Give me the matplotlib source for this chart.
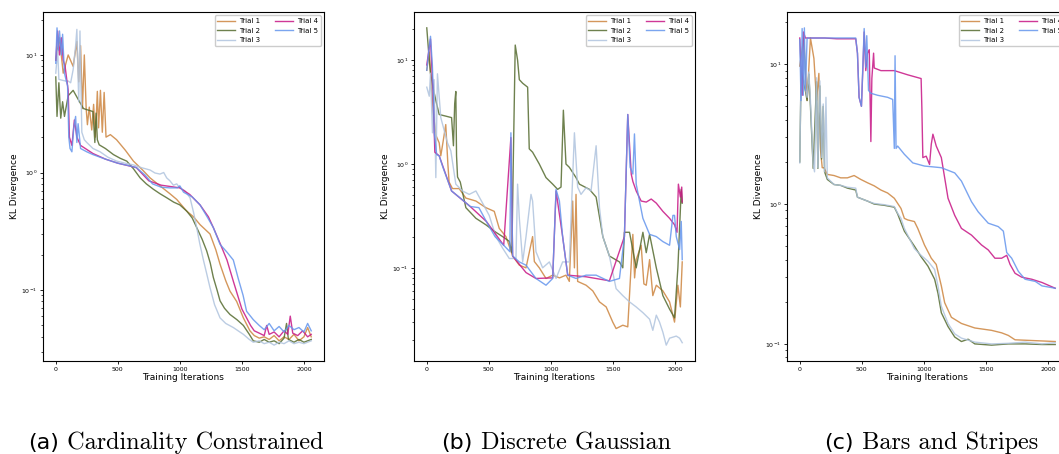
import matplotlib
matplotlib.use("Agg")
import matplotlib.pyplot as plt

# KL divergence per training iteration, (iteration, value) pairs for each trial

# (a) Cardinality Constrained
card_t1 = [(0, 9), (30, 14), (60, 7), (100, 10), (140, 8), (170, 13), (185, 5.9), (200, 12),
           (215, 3.5), (230, 10), (245, 3.5), (255, 2.55), (270, 3.6), (290, 2.3), (305, 3.8),
           (320, 2.0), (335, 4.9), (345, 2.4), (360, 5.0), (375, 2.2), (390, 4.8), (405, 2.0),
           (440, 2.1), (490, 1.9), (560, 1.55), (626, 1.25), (700, 1.05), (760, 0.9), (840, 0.77),
           (920, 0.66), (975, 0.59), (1055, 0.47), (1110, 0.42), (1163, 0.36), (1243, 0.30),
           (1290, 0.22), (1324, 0.166), (1370, 0.12), (1404, 0.098), (1458, 0.08), (1512, 0.058),
           (1565, 0.045), (1600, 0.041), (1640, 0.039), (1680, 0.04), (1720, 0.038), (1760, 0.041),
           (1800, 0.037), (1840, 0.04), (1880, 0.038), (1920, 0.042), (1960, 0.037), (2000, 0.04),
           (2030, 0.048), (2059, 0.04)]
card_t2 = [(0, 6.5), (10, 3.0), (25, 5.8), (40, 2.9), (55, 4.0), (70, 3.0), (100, 4.5), (140, 5.0),
           (180, 4.2), (223, 3.5), (260, 3.4), (300, 3.3), (315, 1.8), (325, 3.2), (335, 1.9),
           (350, 1.72), (400, 1.6), (465, 1.42), (520, 1.32), (572, 1.25), (625, 1.08), (680, 0.9),
           (730, 0.8), (787, 0.72), (840, 0.66), (894, 0.61), (950, 0.56), (1000, 0.53), (1055, 0.47),
           (1100, 0.41), (1136, 0.34), (1180, 0.27), (1216, 0.216), (1245, 0.17), (1270, 0.128),
           (1300, 0.1), (1324, 0.081), (1360, 0.07), (1404, 0.062), (1460, 0.056), (1512, 0.05),
           (1560, 0.042), (1592, 0.037), (1640, 0.036), (1680, 0.038), (1720, 0.036), (1760, 0.037),
           (1800, 0.035), (1840, 0.039), (1860, 0.052), (1875, 0.038), (1920, 0.036), (1960, 0.038),
           (2000, 0.036), (2030, 0.037), (2059, 0.038)]
card_t3 = [(0, 7), (15, 11), (25, 6.2), (50, 6.1), (80, 6.0), (100, 6.0), (120, 5.8), (140, 7.5),
           (160, 12), (170, 16.5), (185, 4), (195, 16), (210, 2.2), (230, 1.9), (250, 1.8), (300, 1.6),
           (357, 1.5), (420, 1.35), (491, 1.25), (560, 1.2), (626, 1.16), (690, 1.1), (760, 1.05),
           (800, 0.99), (840, 0.97), (870, 1.0), (894, 0.9), (920, 0.85), (948, 0.78), (975, 0.8),
           (1000, 0.74), (1040, 0.7), (1082, 0.61), (1110, 0.46), (1136, 0.34), (1160, 0.25),
           (1190, 0.18), (1215, 0.14), (1243, 0.105), (1280, 0.075), (1324, 0.058), (1370, 0.052),
           (1431, 0.048), (1470, 0.045), (1512, 0.042), (1560, 0.038), (1592, 0.036), (1640, 0.037),
           (1680, 0.035), (1720, 0.036), (1760, 0.034), (1800, 0.036), (1840, 0.035), (1880, 0.037),
           (1920, 0.035), (1960, 0.036), (2000, 0.035), (2030, 0.036), (2059, 0.037)]
card_t4 = [(0, 9), (15, 16), (30, 10), (45, 14), (60, 9), (75, 8), (90, 6), (100, 5), (110, 2.0),
           (130, 1.7), (150, 2.8), (170, 2.0), (200, 1.7), (300, 1.45), (400, 1.3), (500, 1.2),
           (650, 1.1), (750, 0.85), (850, 0.78), (1000, 0.74), (1080, 0.65), (1163, 0.53),
           (1230, 0.42), (1270, 0.34), (1324, 0.25), (1380, 0.18), (1431, 0.119), (1500, 0.069),
           (1570, 0.05), (1600, 0.045), (1640, 0.043), (1680, 0.041), (1700, 0.05), (1720, 0.042),
           (1760, 0.044), (1800, 0.04), (1840, 0.045), (1870, 0.042), (1890, 0.06), (1910, 0.043),
           (1950, 0.041), (1990, 0.045), (2030, 0.04), (2059, 0.042)]
card_t5 = [(0, 8.5), (10, 17), (20, 11), (30, 16), (45, 10), (55, 15), (70, 7), (85, 6), (95, 5.5),
           (105, 2.0), (115, 1.6), (130, 1.5), (145, 2.4), (160, 3.0), (170, 1.8), (180, 2.6),
           (200, 1.6), (250, 1.5), (300, 1.42), (400, 1.3), (500, 1.2), (580, 1.15), (650, 1.1),
           (720, 0.95), (780, 0.8), (850, 0.75), (920, 0.74), (980, 0.74), (1000, 0.77), (1030, 0.68),
           (1100, 0.62), (1163, 0.53), (1220, 0.42), (1270, 0.34), (1324, 0.245), (1380, 0.21),
           (1431, 0.18), (1471, 0.125), (1510, 0.09), (1538, 0.066), (1592, 0.056), (1640, 0.05),
           (1680, 0.046), (1720, 0.052), (1760, 0.045), (1800, 0.049), (1840, 0.044), (1880, 0.05),
           (1920, 0.046), (1960, 0.048), (2000, 0.044), (2030, 0.052), (2059, 0.045)]

# (b) Discrete Gaussian
gauss_t1 = [(0, 8), (20, 12), (40, 5), (54, 3.0), (73, 1.9), (100, 1.6), (113, 1.2), (130, 1.6),
            (153, 2.4), (170, 1.0), (180, 0.67), (207, 0.58), (261, 0.58), (315, 0.47), (396, 0.44),
            (476, 0.38), (544, 0.35), (584, 0.24), (638, 0.2), (692, 0.13), (746, 0.106), (800, 0.1),
            (853, 0.2), (867, 0.115), (907, 0.1), (961, 0.079), (1015, 0.085), (1070, 0.08),
            (1122, 0.085), (1149, 0.074), (1176, 0.44), (1190, 0.1), (1203, 0.51), (1216, 0.074),
            (1284, 0.068), (1338, 0.06), (1392, 0.047), (1446, 0.042), (1499, 0.03), (1526, 0.026),
            (1580, 0.028), (1620, 0.027), (1661, 0.21), (1675, 0.08), (1688, 0.12), (1728, 0.165),
            (1750, 0.07), (1769, 0.068), (1796, 0.12), (1822, 0.054), (1850, 0.068), (1903, 0.06),
            (1957, 0.047), (1997, 0.03), (2024, 0.068), (2044, 0.042), (2059, 0.114)]
gauss_t2 = [(0, 20.5), (15, 12), (30, 7.5), (50, 5.5), (75, 4.0), (100, 3.0), (150, 2.9), (200, 2.8),
            (215, 1.5), (225, 3.8), (234, 5.0), (240, 1.2), (248, 0.75), (270, 0.67), (315, 0.38),
            (396, 0.30), (476, 0.26), (557, 0.22), (611, 0.2), (665, 0.18), (686, 0.14), (697, 1.0),
            (713, 14), (732, 10), (746, 6.5), (773, 6.0), (813, 5.5), (826, 1.4), (853, 1.3),
            (907, 1.0), (961, 0.74), (1015, 0.64), (1055, 0.57), (1082, 0.6), (1101, 3.3),
            (1122, 1.0), (1149, 0.93), (1203, 0.74), (1230, 0.64), (1311, 0.57), (1365, 0.48),
            (1419, 0.2), (1472, 0.13), (1553, 0.114), (1580, 0.1), (1593, 0.22), (1634, 0.22),
            (1688, 0.1), (1742, 0.22), (1769, 0.14), (1796, 0.21), (1850, 0.1), (1903, 0.054),
            (1957, 0.04), (1997, 0.033), (2024, 0.1), (2051, 0.57), (2059, 0.42)]
gauss_t3 = [(0, 5.5), (20, 4.5), (30, 7.5), (46, 2.0), (59, 6.5), (73, 0.74), (86, 7.4), (113, 2.8),
            (167, 1.6), (194, 1.34), (234, 0.64), (288, 0.55), (342, 0.51), (396, 0.55), (450, 0.42),
            (503, 0.32), (557, 0.2), (611, 0.155), (665, 0.123), (719, 0.123), (732, 0.64),
            (746, 0.3), (773, 0.114), (800, 0.2), (840, 0.51), (853, 0.44), (880, 0.143),
            (934, 0.1), (988, 0.114), (1042, 0.079), (1095, 0.114), (1149, 0.114), (1190, 2.0),
            (1216, 0.6), (1243, 0.51), (1284, 0.59), (1324, 0.55), (1365, 1.5), (1392, 0.38),
            (1419, 0.2), (1472, 0.13), (1526, 0.063), (1580, 0.054), (1634, 0.047), (1688, 0.042),
            (1742, 0.037), (1796, 0.032), (1822, 0.025), (1850, 0.035), (1876, 0.03), (1903, 0.024),
            (1930, 0.018), (1957, 0.021), (2011, 0.022), (2038, 0.021), (2059, 0.019)]
gauss_t4 = [(0, 9), (30, 16), (50, 5), (65, 1.3), (100, 1.2), (200, 0.55), (350, 0.39), (480, 0.28),
            (620, 0.165), (678, 1.8), (692, 0.13), (800, 0.09), (880, 0.079), (1015, 0.08),
            (1042, 0.55), (1095, 0.2), (1136, 0.085), (1284, 0.082), (1472, 0.075), (1593, 0.2),
            (1620, 3.0), (1648, 0.8), (1661, 0.68), (1688, 0.55), (1728, 0.44), (1769, 0.43),
            (1809, 0.46), (1850, 0.42), (1903, 0.35), (1957, 0.3), (1997, 0.26), (2017, 0.22),
            (2028, 0.64), (2044, 0.48), (2055, 0.6), (2059, 0.43)]
gauss_t5 = [(0, 8), (15, 12), (30, 17), (45, 9), (55, 4), (60, 2.0), (80, 1.23), (100, 1.2),
            (130, 0.93), (200, 0.55), (270, 0.47), (350, 0.39), (420, 0.38), (480, 0.28), (550, 0.2),
            (620, 0.165), (670, 0.143), (678, 2.0), (692, 0.13), (746, 0.114), (800, 0.106),
            (880, 0.079), (961, 0.068), (1015, 0.079), (1042, 0.57), (1069, 0.44), (1095, 0.2),
            (1136, 0.085), (1203, 0.079), (1284, 0.085), (1365, 0.085), (1472, 0.074), (1553, 0.079),
            (1593, 0.2), (1620, 3.0), (1639, 0.93), (1661, 0.8), (1674, 1.95), (1688, 0.64),
            (1742, 0.3), (1796, 0.21), (1850, 0.2), (1903, 0.179), (1957, 0.165), (1984, 0.32),
            (1997, 0.32), (2011, 0.2), (2038, 0.15), (2051, 0.28), (2059, 0.12)]

# (c) Bars and Stripes
bars_t1 = [(0, 9.7), (32, 15.4), (59, 5.5), (86, 15.4), (114, 11), (135, 5.5), (154, 8.6), (168, 2.4),
           (181, 1.82), (195, 1.82), (222, 1.63), (276, 1.6), (330, 1.54), (384, 1.54), (438, 1.6),
           (492, 1.5), (546, 1.42), (600, 1.35), (654, 1.26), (708, 1.2), (762, 1.1), (816, 0.93),
           (843, 0.79), (870, 0.77), (924, 0.75), (951, 0.67), (1005, 0.51), (1060, 0.41),
           (1100, 0.37), (1141, 0.26), (1168, 0.197), (1222, 0.155), (1303, 0.14), (1411, 0.13),
           (1546, 0.125), (1627, 0.12), (1681, 0.115), (1735, 0.107), (1843, 0.106), (1952, 0.105),
           (2059, 0.104)]
bars_t2 = [(0, 2.0), (11, 9), (32, 7.5), (59, 5.5), (73, 8.5), (86, 5.0), (108, 1.8), (135, 7.5),
           (146, 1.8), (162, 7), (176, 2.1), (189, 5), (200, 1.7), (222, 1.5), (276, 1.38),
           (330, 1.36), (384, 1.3), (451, 1.26), (465, 1.12), (546, 1.05), (600, 1.0), (681, 0.98),
           (762, 0.95), (789, 0.85), (843, 0.64), (924, 0.5), (978, 0.42), (1033, 0.36), (1087, 0.29),
           (1114, 0.23), (1141, 0.167), (1195, 0.133), (1249, 0.112), (1303, 0.104), (1357, 0.108),
           (1411, 0.1), (1546, 0.098), (1681, 0.1), (1816, 0.1), (1952, 0.099), (2059, 0.099)]
bars_t3 = [(0, 1.97), (11, 9.7), (32, 7.9), (59, 5.8), (73, 8.8), (86, 5.5), (108, 1.92), (119, 1.7),
           (135, 8.0), (146, 1.82), (162, 7.6), (176, 2.15), (189, 5.2), (200, 1.7), (211, 5.8),
           (222, 1.54), (276, 1.38), (330, 1.36), (384, 1.32), (451, 1.3), (465, 1.12), (546, 1.05),
           (600, 1.01), (681, 0.99), (762, 0.96), (789, 0.86), (816, 0.79), (843, 0.67), (870, 0.6),
           (924, 0.48), (978, 0.43), (1033, 0.39), (1087, 0.34), (1114, 0.26), (1141, 0.186),
           (1195, 0.14), (1249, 0.118), (1303, 0.11), (1411, 0.103), (1546, 0.1), (1681, 0.101),
           (1816, 0.103), (1952, 0.1), (2059, 0.102)]
bars_t4 = [(0, 15.4), (20, 6), (30, 17), (45, 15.4), (100, 15.4), (200, 15.4), (300, 15.2), (451, 15.2),
           (465, 12), (478, 5.8), (497, 5.0), (508, 9), (519, 17), (532, 9), (546, 12), (560, 12.7),
           (573, 2.8), (581, 7.9), (595, 12), (600, 9.4), (654, 9.0), (762, 9.0), (870, 8.4),
           (978, 7.9), (984, 4.9), (992, 2.15), (1019, 2.2), (1046, 1.92), (1060, 2.68), (1073, 3.16),
           (1100, 2.6), (1141, 2.15), (1168, 1.54), (1195, 1.1), (1249, 0.83), (1303, 0.67),
           (1384, 0.6), (1465, 0.51), (1519, 0.47), (1573, 0.41), (1627, 0.41), (1668, 0.43),
           (1695, 0.37), (1735, 0.32), (1789, 0.3), (1870, 0.29), (1952, 0.275), (2059, 0.25)]
bars_t5 = [(0, 15), (10, 5.5), (19, 18), (28, 6), (37, 18.2), (46, 6.5), (59, 15.4), (200, 15.4),
           (300, 15.4), (451, 15.4), (465, 12), (478, 5.8), (497, 5.0), (508, 9.5), (519, 18),
           (532, 9.5), (540, 16), (554, 6.5), (573, 6.2), (627, 6.0), (708, 5.8), (749, 5.6),
           (762, 2.5), (768, 11.5), (776, 2.5), (789, 2.6), (843, 2.27), (911, 1.97), (1005, 1.87),
           (1060, 1.85), (1141, 1.82), (1249, 1.67), (1303, 1.46), (1384, 1.04), (1438, 0.88),
           (1519, 0.73), (1600, 0.69), (1641, 0.64), (1668, 0.45), (1708, 0.41), (1762, 0.33),
           (1816, 0.29), (1898, 0.28), (1952, 0.26), (2006, 0.255), (2059, 0.25)]

trial_labels = ["Trial 1", "Trial 2", "Trial 3", "Trial 4", "Trial 5"]
trial_colors = ["peru", "darkolivegreen", "lightsteelblue", "mediumvioletred", "cornflowerblue"]

panels = [
    ("(a)", "Cardinality Constrained", [card_t1, card_t2, card_t3, card_t4, card_t5]),
    ("(b)", "Discrete Gaussian", [gauss_t1, gauss_t2, gauss_t3, gauss_t4, gauss_t5]),
    ("(c)", "Bars and Stripes", [bars_t1, bars_t2, bars_t3, bars_t4, bars_t5]),
]

fig = plt.figure(figsize=(10.59, 4.54), dpi=100)
lefts = [43, 414, 787]
caption_centers = [176, 556, 931]
W, H = 1059, 454

for (tag, name, trials), left, cx in zip(panels, lefts, caption_centers):
    ax = fig.add_axes([left / W, 93 / H, 281 / W, 349 / H])
    for pts, lab, col in zip(trials, trial_labels, trial_colors):
        xs = [p[0] for p in pts]
        ys = [p[1] for p in pts]
        ax.plot(xs, ys, color=col, lw=1.0, alpha=0.85, label=lab)
    ax.set_yscale("log")
    ax.set_xlabel("Training Iterations", fontsize=6.5, labelpad=1)
    ax.set_ylabel("KL Divergence", fontsize=6.5, labelpad=2)
    ax.tick_params(labelsize=4.5, length=2, width=0.6, pad=2)
    ax.tick_params(which="minor", length=1.2, width=0.5)
    for s in ax.spines.values():
        s.set_linewidth(0.8)
    ax.legend(loc="upper right", ncol=2, fontsize=5, handlelength=2.6, handletextpad=0.6,
              columnspacing=2.0, borderpad=0.4, labelspacing=0.5, framealpha=1)

    # caption under each panel: sans tag followed by serif title
    t1 = fig.text(0, 0, tag, fontsize=16, family="DejaVu Sans", va="baseline")
    t2 = fig.text(0, 0, " " + name, fontsize=17.5, family="cmr10", va="baseline")
    fig.canvas.draw()
    r = fig.canvas.get_renderer()
    w1 = t1.get_window_extent(r).width
    w2 = t2.get_window_extent(r).width
    x0 = cx - (w1 + w2) / 2
    t1.set_position((x0 / W, 5 / H))
    t2.set_position(((x0 + w1) / W, 5 / H))

fig.savefig("out.png", dpi=100)
